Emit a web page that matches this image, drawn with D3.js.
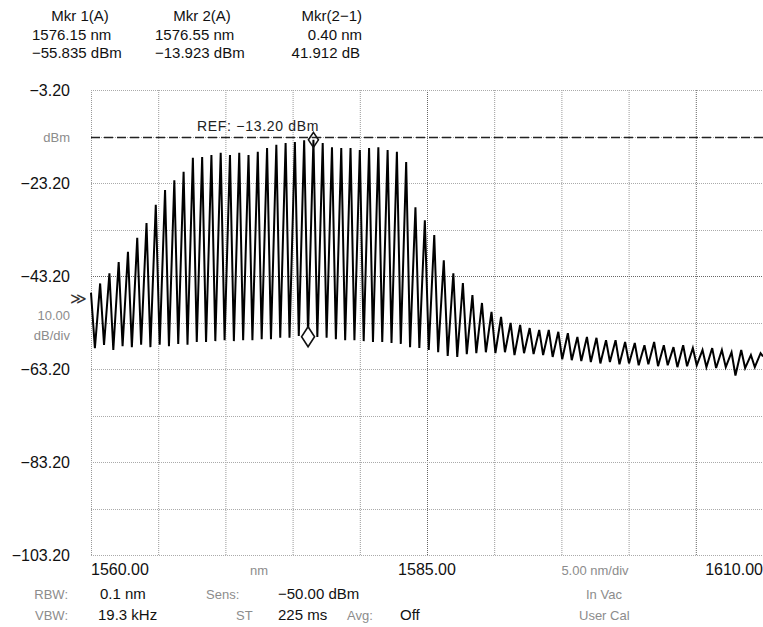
<!DOCTYPE html>
<html>
<head>
<meta charset="utf-8">
<script src="https://cdn.jsdelivr.net/npm/d3@7"></script>
<style>
  body { margin: 0; background: #fff; }
  svg text { font-family: "Liberation Sans", Arial, sans-serif; }
</style>
</head>
<body>
<div id="chart"></div>
<script>
// OSA trace: [wavelength nm, level dBm]
var peaks = [
  [1560.00, -46.8], [1560.68, -44.8], [1561.37, -42.6], [1562.06, -40.2], [1562.75, -38.0],
  [1563.44, -35.0], [1564.13, -31.8], [1564.82, -27.9], [1565.51, -24.7], [1566.20, -22.6],
  [1566.89, -20.8], [1567.58, -17.8], [1568.27, -17.6], [1568.96, -17.2], [1569.65, -16.7],
  [1570.34, -17.2], [1571.03, -16.7], [1571.72, -17.2], [1572.41, -16.5], [1573.10, -15.7],
  [1573.79, -15.0], [1574.48, -14.6], [1575.17, -14.4], [1575.86, -14.0], [1576.55, -13.9],
  [1577.24, -14.6], [1577.93, -15.5], [1578.62, -15.7], [1579.31, -15.7], [1580.00, -16.1],
  [1580.69, -15.7], [1581.38, -15.5], [1582.07, -16.1], [1582.76, -16.5], [1583.45, -18.7],
  [1584.14, -28.4], [1584.84, -31.2], [1585.54, -34.4], [1586.25, -39.8], [1586.96, -42.6],
  [1587.67, -44.7], [1588.38, -47.3], [1589.09, -49.0], [1589.80, -50.9], [1590.51, -52.0],
  [1591.22, -53.3], [1591.93, -53.7], [1592.64, -54.4], [1593.35, -54.8], [1594.06, -54.8],
  [1594.77, -55.2], [1595.48, -55.5], [1596.19, -56.3], [1596.90, -56.3], [1597.61, -56.5],
  [1598.32, -57.0], [1599.03, -57.0], [1599.74, -57.4], [1600.46, -57.6], [1601.18, -58.1],
  [1601.90, -57.4], [1602.62, -58.1], [1603.34, -58.5], [1604.06, -58.1], [1604.78, -58.7],
  [1605.50, -59.1], [1606.22, -58.7], [1606.94, -59.1], [1607.66, -59.6], [1608.38, -59.1],
  [1609.10, -60.2], [1609.82, -59.8]
]
var valleys = [
  [1560.29, -58.7], [1560.97, -58.0], [1561.66, -59.1], [1562.35, -58.3], [1563.04, -58.5],
  [1563.73, -58.0], [1564.42, -58.5], [1565.11, -58.0], [1565.80, -58.3], [1566.49, -57.8],
  [1567.18, -58.0], [1567.87, -57.4], [1568.56, -57.4], [1569.25, -57.2], [1569.94, -57.0],
  [1570.63, -57.2], [1571.32, -57.0], [1572.01, -57.0], [1572.70, -56.8], [1573.39, -56.8],
  [1574.08, -56.5], [1574.77, -56.5], [1575.46, -56.1], [1576.15, -55.84], [1576.84, -56.3],
  [1577.53, -56.5], [1578.22, -56.8], [1578.91, -57.0], [1579.60, -57.0], [1580.29, -57.2],
  [1580.98, -57.4], [1581.67, -57.4], [1582.36, -57.6], [1583.05, -57.8], [1583.74, -58.5],
  [1584.43, -58.7], [1585.13, -59.1], [1585.83, -59.6], [1586.54, -60.4], [1587.25, -60.6],
  [1587.96, -60.0], [1588.67, -59.8], [1589.38, -59.6], [1590.09, -59.8], [1590.80, -59.6],
  [1591.51, -60.2], [1592.22, -59.8], [1592.93, -60.0], [1593.64, -60.2], [1594.35, -60.6],
  [1595.06, -61.1], [1595.77, -61.3], [1596.48, -61.5], [1597.19, -61.7], [1597.90, -62.0],
  [1598.61, -61.7], [1599.32, -62.2], [1600.03, -62.0], [1600.75, -62.4], [1601.47, -62.2],
  [1602.19, -62.6], [1602.91, -62.4], [1603.63, -62.8], [1604.35, -62.6], [1605.07, -62.4],
  [1605.79, -62.8], [1606.51, -63.0], [1607.23, -62.8], [1607.95, -64.6], [1608.67, -63.0],
  [1609.39, -62.8], [1610.00, -60.5]
]

var xTicks = [1560, 1565, 1570, 1575, 1580, 1585, 1590, 1595, 1600, 1605, 1610]
var yTicks = [-103.2, -93.2, -83.2, -73.2, -63.2, -53.2, -43.2, -33.2, -23.2, -13.2, -3.2]
var yLabels = [-3.2, -23.2, -43.2, -63.2, -83.2, -103.2]
var xLabels = [
  { v: 1560, t: '1560.00', anchor: 'start' },
  { v: 1585, t: '1585.00', anchor: 'middle' },
  { v: 1610, t: '1610.00', anchor: 'end' }
]
var refLevel = -13.2
var markers = [
  { name: 'Mkr 1(A)', nm: 1576.15, dbm: -55.835 },
  { name: 'Mkr 2(A)', nm: 1576.55, dbm: -13.923 }
]

var W = 763
var H = 627
var svg = d3.select('#chart').append('svg').attr('width', W).attr('height', H)

var x = d3.scaleLinear().domain([1560, 1610]).range([91, 763])
var y = d3.scaleLinear().domain([-103.2, -3.2]).range([555, 90])

var fmt = function (v) { return d3.format('.2f')(v).replace('-', '\u2212') }

// grid
var grid = svg.append('g')
grid.selectAll('line.v').data(xTicks).enter().append('line')
  .attr('x1', function (d) { return x(d) + 0.5 }).attr('x2', function (d) { return x(d) + 0.5 })
  .attr('y1', y(-3.2)).attr('y2', y(-103.2))
  .attr('stroke', function (d) { return (d === 1585 || d === 1605) ? '#666' : '#999' })
  .attr('stroke-width', 1)
  .attr('stroke-dasharray', '1,1')
grid.selectAll('line.h').data(yTicks).enter().append('line')
  .attr('y1', function (d) { return Math.round(y(d)) + 0.5 }).attr('y2', function (d) { return Math.round(y(d)) + 0.5 })
  .attr('x1', x(1560)).attr('x2', x(1610))
  .attr('stroke', function (d) { return d === -43.2 ? '#666' : '#aaa' })
  .attr('stroke-width', 1)
  .attr('stroke-dasharray', '1,1')

// reference level
svg.append('line')
  .attr('x1', x(1560)).attr('x2', x(1610))
  .attr('y1', Math.round(y(refLevel)) + 0.5).attr('y2', Math.round(y(refLevel)) + 0.5)
  .attr('stroke', '#222').attr('stroke-width', 1.3).attr('stroke-dasharray', '9,4')
svg.append('text').attr('x', 197).attr('y', y(refLevel) - 6)
  .attr('font-size', 14).attr('letter-spacing', 0.7).attr('fill', '#222')
  .text('REF: \u221213.20 dBm')

// trace
var trace = peaks.concat(valleys).sort(function (a, b) { return a[0] - b[0] })
var line = d3.line().x(function (d) { return x(d[0]) }).y(function (d) { return y(d[1]) })
svg.append('path').datum(trace)
  .attr('d', line)
  .attr('fill', 'none').attr('stroke', '#000').attr('stroke-width', 2)
  .attr('stroke-linejoin', 'miter')

// markers
markers.forEach(function (m, i) {
  var cx = x(m.nm)
  var cy = y(m.dbm) + (i === 0 ? 2 : 0)
  var w = i === 0 ? 6.5 : 5
  var h = i === 0 ? 10 : 7.5
  svg.append('path')
    .attr('d', 'M' + cx + ',' + (cy - h) + 'L' + (cx + w) + ',' + cy + 'L' + cx + ',' + (cy + h) + 'L' + (cx - w) + ',' + cy + 'Z')
    .attr('fill', i === 0 ? '#fff' : 'none').attr('stroke', '#111').attr('stroke-width', 1.6)
})

// y labels
svg.selectAll('text.yl').data(yLabels).enter().append('text')
  .attr('x', 70).attr('y', function (d) { return y(d) + 5.5 })
  .attr('text-anchor', 'end').attr('font-size', 16).attr('fill', '#111')
  .text(fmt)
var gray = '#8c8c8c'
svg.append('text').attr('x', 70).attr('y', y(refLevel) + 5).attr('text-anchor', 'end')
  .attr('font-size', 13).attr('fill', gray).text('dBm')
svg.append('text').attr('x', 70).attr('y', 320).attr('text-anchor', 'end')
  .attr('font-size', 13).attr('fill', gray).text('10.00')
svg.append('text').attr('x', 70).attr('y', 340).attr('text-anchor', 'end')
  .attr('font-size', 13).attr('fill', gray).text('dB/div')
svg.append('text').attr('x', 70).attr('y', 304)
  .attr('font-size', 16).attr('fill', '#333').text('\u226B')

// x labels
svg.selectAll('text.xl').data(xLabels).enter().append('text')
  .attr('x', function (d) { return x(d.v) }).attr('y', 575)
  .attr('text-anchor', function (d) { return d.anchor }).attr('font-size', 16).attr('fill', '#111')
  .text(function (d) { return d.t })
svg.append('text').attr('x', x(1572.5)).attr('y', 575).attr('text-anchor', 'middle')
  .attr('font-size', 13).attr('fill', gray).text('nm')
svg.append('text').attr('x', x(1597.5)).attr('y', 575).attr('text-anchor', 'middle')
  .attr('font-size', 13).attr('fill', gray).text('5.00 nm/div')

// header
var head = [
  { t: 'Mkr 1(A)', x: 80, y: 21, a: 'middle' },
  { t: '1576.15 nm', x: 32, y: 40, a: 'start' },
  { t: '\u221255.835 dBm', x: 32, y: 58, a: 'start' },
  { t: 'Mkr 2(A)', x: 202, y: 21, a: 'middle' },
  { t: '1576.55 nm', x: 155, y: 40, a: 'start' },
  { t: '\u221213.923 dBm', x: 155, y: 58, a: 'start' },
  { t: 'Mkr(2\u22121)', x: 362, y: 21, a: 'end' },
  { t: '0.40 nm', x: 362, y: 40, a: 'end' },
  { t: '41.912 dB', x: 360, y: 58, a: 'end' }
]
svg.selectAll('text.hd').data(head).enter().append('text')
  .attr('x', function (d) { return d.x }).attr('y', function (d) { return d.y })
  .attr('text-anchor', function (d) { return d.a }).attr('font-size', 15).attr('fill', '#111')
  .text(function (d) { return d.t })

// footer
var foot = [
  { t: 'RBW:', x: 68, y: 599, a: 'end', g: 1 },
  { t: '0.1 nm', x: 100, y: 599, a: 'start' },
  { t: 'Sens:', x: 206, y: 599, a: 'start', g: 1 },
  { t: '\u221250.00 dBm', x: 278, y: 599, a: 'start' },
  { t: 'In Vac', x: 586, y: 599, a: 'start', g: 1 },
  { t: 'VBW:', x: 68, y: 620, a: 'end', g: 1 },
  { t: '19.3 kHz', x: 98, y: 620, a: 'start' },
  { t: 'ST', x: 236, y: 620, a: 'start', g: 1 },
  { t: '225 ms', x: 278, y: 620, a: 'start' },
  { t: 'Avg:', x: 347, y: 620, a: 'start', g: 1 },
  { t: 'Off', x: 400, y: 620, a: 'start' },
  { t: 'User Cal', x: 579, y: 620, a: 'start', g: 1 }
]
svg.selectAll('text.ft').data(foot).enter().append('text')
  .attr('x', function (d) { return d.x }).attr('y', function (d) { return d.y })
  .attr('text-anchor', function (d) { return d.a })
  .attr('font-size', function (d) { return d.g ? 13 : 15 })
  .attr('fill', function (d) { return d.g ? gray : '#111' })
  .text(function (d) { return d.t })
</script>
</body>
</html>
